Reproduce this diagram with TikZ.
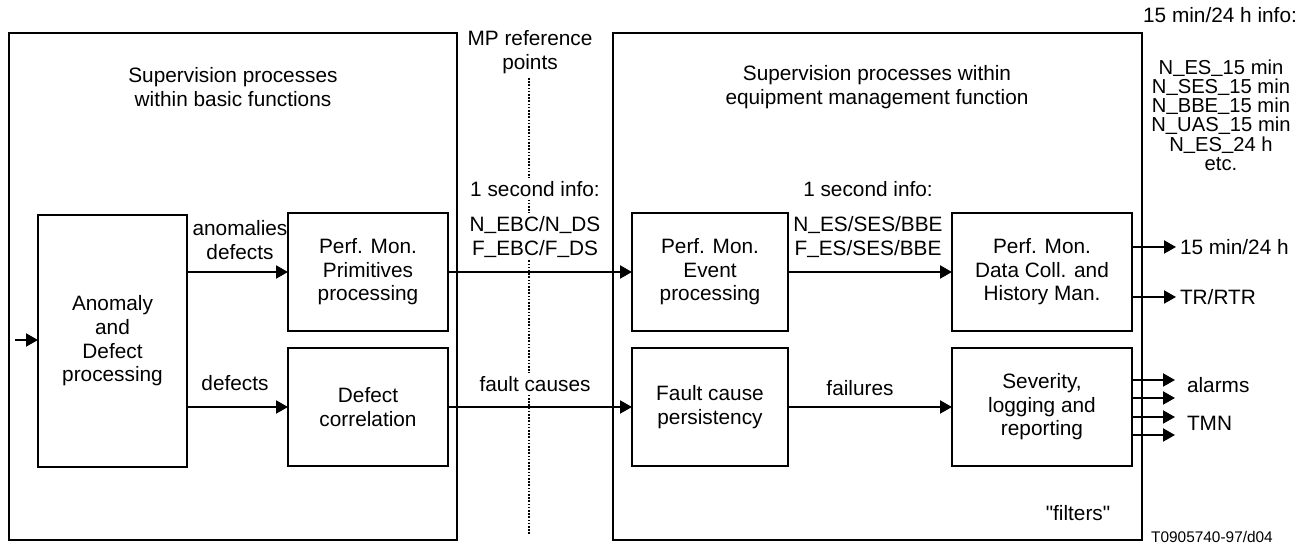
\documentclass[tikz,border=0pt]{standalone}
\usepackage{fontspec}
\setmainfont{Liberation Sans}
\usetikzlibrary{arrows.meta,positioning}

\newcommand{\plainquote}{\XeTeXglyph\XeTeXcharglyph"22\relax}
\newcommand{\lowbar}{\raisebox{0.9pt}{\_}}

\begin{document}
\begin{tikzpicture}[
        x=0.5pt, y=-0.5pt,
        ->,
        >={Triangle[length=6pt,width=6.5pt]},
        line width=1pt,
        node distance=8.5pt,
        font=\fontsize{10.4}{11.8}\selectfont,
        blk/.style={draw, line width=0.6pt, align=center, inner sep=2pt,
                    outer sep=0pt, minimum height=59pt},
        zone/.style={draw, line width=0.6pt, outer sep=0pt,
                     minimum width=#1, minimum height=253.5pt},
        lbl/.style={align=center, inner sep=1.5pt},
        mask/.style={lbl, fill=white}
    ]
    \useasboundingbox (0,0) rectangle (1313,544);

    % the two sides
    \node[zone=224pt] (basic) at (233,286.5) {};
    \node[zone=264.5pt] (eqp) at (877.5,286.5) {};
    \node[lbl] (basic-title) at (233,87) {Supervision processes\\within basic functions};
    \node[lbl] (eqp-title) at (877,87) {Supervision processes within\\equipment management function};

    % MP reference points
    \node[lbl] (mp-title) at (530,52) {MP reference\\points};
    \coordinate (mp-top) at (529,78);
    \coordinate (mp-bot) at (529,535);
    \draw[-, line width=0.8pt, dash pattern=on 0.8pt off 0.8pt] (mp-top) -- (mp-bot);

    % blocks
    \node[blk, minimum width=74.5pt, minimum height=126pt] (anom) at (112.5,341)
        {Anomaly\\and\\Defect\\processing};
    \node[blk, minimum width=80pt] (prim) at (368,272) {Perf. Mon.\\Primitives\\processing};
    \node[blk, minimum width=80pt] (corr) [below=of prim] {Defect\\correlation};
    \node[blk, minimum width=78pt] (evt) at (710,272) {Perf. Mon.\\Event\\processing};
    \node[blk, minimum width=78pt] (fault) [below=of evt] {Fault cause\\persistency};
    \node[blk, minimum width=90pt] (data) [right=82pt of evt] {Perf. Mon.\\Data Coll. and\\History Man.};
    \node[blk, minimum width=90pt] (sev) [below=of data] {Severity,\\logging and\\reporting};

    % labels
    \node[mask] (sec-mp) at (535,189) {1 second info:};
    \node[mask] (cnt-mp) at (535,237) {N\lowbar EBC/N\lowbar DS\\F\lowbar EBC/F\lowbar DS};
    \node[mask] (fault-mp) at (535,384) {fault causes};
    \node[lbl] (sec-eqp) at (868,189) {1 second info:};
    \node[lbl] (cnt-eqp) at (868,237) {N\lowbar ES/SES/BBE\\F\lowbar ES/SES/BBE};
    \node[lbl] (anom-out) at (240,240) {anomalies\\defects};
    \node[lbl] (def-out) at (235,383) {defects};
    \node[lbl] (fail-out) at (860,388) {failures};
    \node[lbl] (long-title) at (1220,15) {15 min/24 h info:};
    \node[lbl, font={\fontsize{10.1}{9.6}\selectfont\lineskiplimit=-20pt}] (long-list) at (1221,115)
        {N\lowbar ES\lowbar 15 min\\N\lowbar SES\lowbar 15 min\\N\lowbar BBE\lowbar 15 min\\
         N\lowbar UAS\lowbar 15 min\\N\lowbar ES\lowbar 24 h\\etc.};
    \node[lbl] (filt) at (1078,513) {\plainquote filters\plainquote};
    \node[lbl, font=\fontsize{7.7}{9}\selectfont] (fig-id) at (1212,537) {T0905740-97/d04};

    % outputs
    \node[lbl, anchor=west] (t-15) at (1176,247) {15 min/24 h};
    \node[lbl, anchor=west] (t-tr) at (1176,297) {TR/RTR};
    \node[lbl, anchor=west] (t-alm) at (1183,385) {alarms};
    \node[lbl, anchor=west] (t-tmn) at (1183,423) {TMN};
    \coordinate (anom-in) at (15,340);
    \foreach \n/\ypos in {1/380,2/398,3/417,4/435}
        \coordinate (sev-out-\n) at (1175,\ypos);

    \path
    (anom-in) edge (anom.west |- anom-in)
    (anom.east |- prim.west) edge (prim.west)
    (anom.east |- corr.west) edge (corr.west)
    (prim) edge (evt)
    (corr) edge (fault)
    (evt) edge (data)
    (fault) edge (sev)
    (data.east |- t-15.west) edge (t-15.west)
    (data.east |- t-tr.west) edge (t-tr.west)
    ;
    \foreach \n in {1,...,4}
        \path (sev.east |- sev-out-\n) edge (sev-out-\n);
\end{tikzpicture}
\end{document}
